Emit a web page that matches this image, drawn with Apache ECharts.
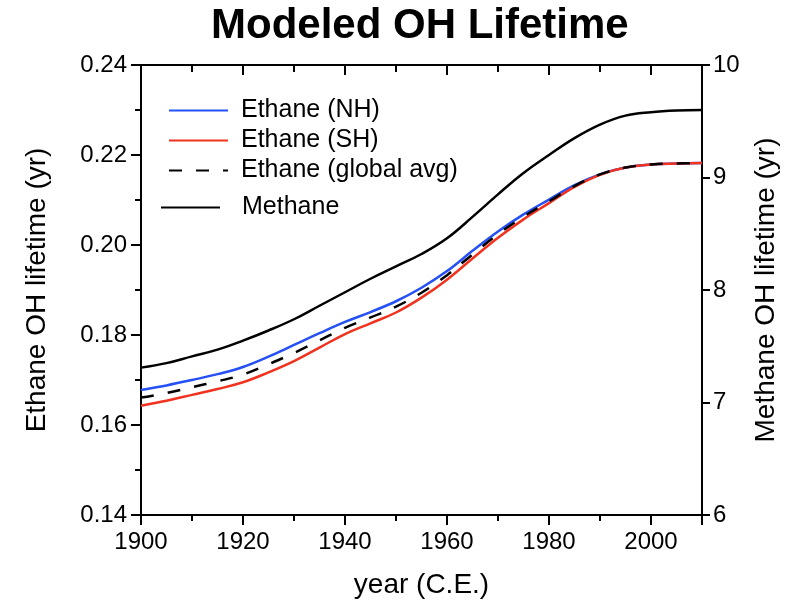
<!DOCTYPE html>
<html>
<head>
<meta charset="utf-8">
<script src="https://cdn.jsdelivr.net/npm/echarts@6/dist/echarts.min.js"></script>
<style>html,body{margin:0;padding:0;background:#fff;}#chart{width:788px;height:602px;}</style>
</head>
<body>
<div id="chart"></div>
<script>
const years = [1900,1905,1910,1915,1920,1925,1930,1935,1940,1945,1950,1955,1960,1965,1970,1975,1980,1985,1990,1995,2000,2005,2010];
const ethaneNH = [0.1678,0.1688,0.1700,0.1713,0.1729,0.1752,0.1778,0.1804,0.1829,0.1851,0.1875,0.1905,0.1942,0.1987,0.2030,0.2068,0.2101,0.2133,0.2157,0.2172,0.2179,0.2181,0.2182];
const ethaneSH = [0.1643,0.1654,0.1667,0.1680,0.1695,0.1717,0.1742,0.1772,0.1802,0.1826,0.1850,0.1883,0.1923,0.1970,0.2016,0.2057,0.2093,0.2129,0.2156,0.2172,0.2179,0.2181,0.2182];
const ethaneGlobal = [0.1661,0.1671,0.1684,0.1697,0.1712,0.1735,0.1760,0.1788,0.1816,0.1839,0.1863,0.1894,0.1933,0.1979,0.2024,0.2063,0.2097,0.2131,0.2157,0.2172,0.2179,0.2181,0.2182];
const methane = [7.31,7.35,7.41,7.47,7.55,7.64,7.74,7.86,7.98,8.10,8.21,8.32,8.46,8.65,8.85,9.04,9.20,9.35,9.47,9.55,9.58,9.595,9.60];
const seriesNames = ['Ethane (NH)','Ethane (SH)','Ethane (global avg)','Methane'];
const titleText = 'Modeled OH Lifetime';
const xName = 'year (C.E.)';
const yLeftName = 'Ethane OH lifetime (yr)';
const yRightName = 'Methane OH lifetime (yr)';

const FONT = 'Liberation Sans, Arial, Helvetica, sans-serif';
const pair = (vals) => years.map((y, i) => [y, vals[i]]);
const blk = '#000';

const baseX = {
  type: 'value', min: 1900, max: 2010, splitLine: {show: false}
};
const hiddenSymbol = {color: 'rgba(0,0,0,0)', borderWidth: 0, opacity: 0};

const chart = echarts.init(document.getElementById('chart'));
chart.setOption({
  animation: false,
  backgroundColor: '#fff',
  title: {
    text: titleText, left: 206, top: 0,
    textStyle: {fontFamily: FONT, fontSize: 42, fontWeight: 'bold', color: blk}
  },
  grid: {left: 141, right: 86, top: 65, bottom: 87, containLabel: false, outerBoundsMode: 'none'},
  legend: [
    {
      data: seriesNames.slice(0, 3), orient: 'vertical', left: 168, top: 98, padding: 0,
      itemWidth: 59, itemHeight: 14, itemGap: 5,
      itemStyle: hiddenSymbol,
      textStyle: {fontFamily: FONT, fontSize: 25, color: blk, padding: [0, 0, 0, 8]}
    },
    {
      data: seriesNames.slice(3), orient: 'vertical', left: 160, top: 195, padding: 0,
      itemWidth: 59, itemHeight: 14,
      itemStyle: hiddenSymbol,
      textStyle: {fontFamily: FONT, fontSize: 25, color: blk, padding: [0, 0, 0, 17]}
    }
  ],
  xAxis: [
    Object.assign({}, baseX, {
      position: 'bottom', interval: 20,
      name: xName, nameLocation: 'middle', nameGap: 56,
      nameTextStyle: {fontFamily: FONT, fontSize: 28, color: blk},
      axisLine: {show: true, lineStyle: {color: blk, width: 2}},
      axisTick: {show: true, inside: false, length: 10, lineStyle: {color: blk, width: 2}},
      axisLabel: {fontFamily: FONT, fontSize: 24, color: blk, margin: 15,
        formatter: v => (v % 20 === 0 ? String(v) : '')}
    }),
    Object.assign({}, baseX, {
      position: 'bottom', interval: 10,
      axisLine: {show: false},
      axisTick: {show: true, inside: false, length: 6, lineStyle: {color: blk, width: 2}},
      axisLabel: {show: false}
    }),
    Object.assign({}, baseX, {
      position: 'top', interval: 20,
      axisLine: {show: true, lineStyle: {color: blk, width: 2}},
      axisTick: {show: true, inside: true, length: 10, lineStyle: {color: blk, width: 2}},
      axisLabel: {show: false}
    }),
    Object.assign({}, baseX, {
      position: 'top', interval: 10,
      axisLine: {show: false},
      axisTick: {show: true, inside: true, length: 7, lineStyle: {color: blk, width: 2}},
      axisLabel: {show: false}
    })
  ],
  yAxis: [
    {
      type: 'value', position: 'left', min: 0.14, max: 0.24, interval: 0.02,
      name: yLeftName, nameLocation: 'middle', nameGap: 90,
      nameTextStyle: {fontFamily: FONT, fontSize: 28, color: blk},
      splitLine: {show: false},
      axisLine: {show: true, lineStyle: {color: blk, width: 2}},
      axisTick: {show: true, inside: false, length: 10, lineStyle: {color: blk, width: 2}},
      minorTick: {show: true, splitNumber: 2, length: 6, lineStyle: {color: blk, width: 2}},
      axisLabel: {fontFamily: FONT, fontSize: 24, color: blk, margin: 14,
        formatter: v => v.toFixed(2)}
    },
    {
      type: 'value', position: 'right', min: 6, max: 10, interval: 1,
      name: yRightName, nameLocation: 'middle', nameGap: 50,
      nameTextStyle: {fontFamily: FONT, fontSize: 28, color: blk},
      splitLine: {show: false},
      axisLine: {show: true, lineStyle: {color: blk, width: 2}},
      axisTick: {show: true, inside: false, length: 8, lineStyle: {color: blk, width: 2}},
      axisLabel: {fontFamily: FONT, fontSize: 24, color: blk, margin: 11}
    }
  ],
  series: [
    {name: seriesNames[0], type: 'line', xAxisIndex: 0, yAxisIndex: 0, data: pair(ethaneNH),
     smooth: 0.4, showSymbol: false, symbol: 'none', color: '#2450f5',
     lineStyle: {color: '#2450f5', width: 2.5}},
    {name: seriesNames[1], type: 'line', xAxisIndex: 0, yAxisIndex: 0, data: pair(ethaneSH),
     smooth: 0.4, showSymbol: false, symbol: 'none', color: '#f0321e',
     lineStyle: {color: '#f0321e', width: 2.5}},
    {name: seriesNames[2], type: 'line', xAxisIndex: 0, yAxisIndex: 0, data: pair(ethaneGlobal),
     smooth: 0.4, showSymbol: false, symbol: 'none', color: '#000',
     lineStyle: {color: '#000', width: 2.5, type: [13, 14]}},
    {name: seriesNames[3], type: 'line', xAxisIndex: 0, yAxisIndex: 1, data: pair(methane),
     smooth: 0.4, showSymbol: false, symbol: 'none', color: '#000',
     lineStyle: {color: '#000', width: 2.5}}
  ]
});
</script>
</body>
</html>
